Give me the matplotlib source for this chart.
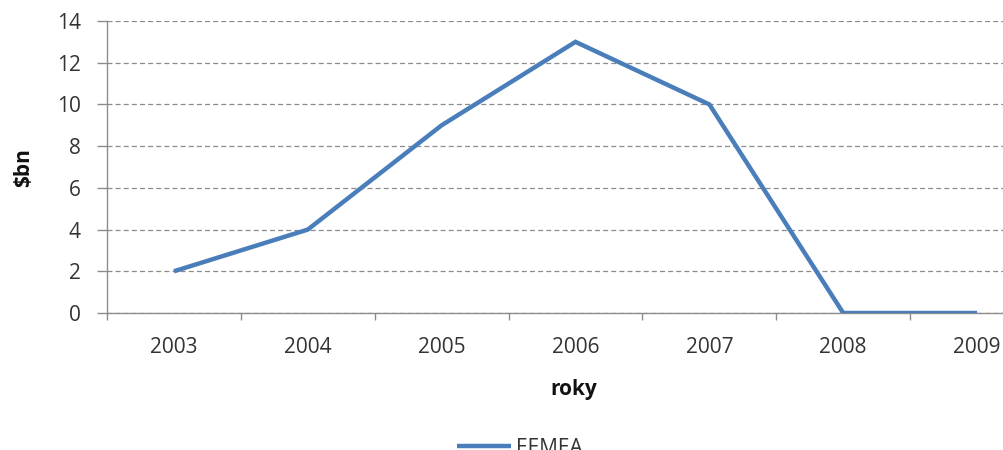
import matplotlib
matplotlib.use("Agg")
import matplotlib.pyplot as plt

years = ["2003", "2004", "2005", "2006", "2007", "2008", "2009"]
eemea = [2, 4, 9, 13, 10, 0, 0]
y_ticks = [0, 2, 4, 6, 8, 10, 12, 14]

plt.rcParams["font.family"] = ["Open Sans", "DejaVu Sans"]

W, H = 1004, 450
fig = plt.figure(figsize=(W / 100, H / 100), dpi=100)
fig.patch.set_facecolor("white")

# plot area: left edge at 107px, x axis at 313px, top at 21px; extends past right edge
ax = fig.add_axes([107 / W, (H - 313) / H, 937 / W, 292 / H])

x = list(range(len(years)))
line, = ax.plot(x, eemea, color="#4A7EBB", lw=3.2, solid_joinstyle="miter",
                solid_capstyle="butt", label="EEMEA", zorder=3)

ax.set_xlim(-0.5, len(years) - 0.5)
ax.set_ylim(0, 14)
ax.set_yticks(y_ticks)
ax.set_yticklabels([str(v) for v in y_ticks])
ax.set_xticks(x)
ax.set_xticklabels(years)
ax.set_xticks([i + 0.5 for i in range(-1, len(years))], minor=True)

grid_col = "#8C8C8C"
ax.yaxis.grid(True, linestyle=(0, (4, 2.5)), color=grid_col, lw=0.9)
ax.set_axisbelow(True)
for s in ["top", "right"]:
    ax.spines[s].set_visible(False)
for s in ["left", "bottom"]:
    ax.spines[s].set_color(grid_col)
    ax.spines[s].set_linewidth(1.0)

fs = 15
ax.tick_params(axis="y", which="major", length=7, color=grid_col, width=1.0,
               labelsize=fs, labelcolor="#333333", pad=12)
ax.tick_params(axis="x", which="major", length=0, labelsize=fs,
               labelcolor="#333333", pad=17)
ax.tick_params(axis="x", which="minor", length=5, color=grid_col, width=1.0)

ax.set_ylabel("$bn", fontsize=fs, fontweight="bold", color="#111111")
ax.set_xlabel("roky", fontsize=fs, fontweight="bold", color="#111111")
ax.xaxis.set_label_coords((574 - 107) / 937, -(379 - 313) / 292)
ax.yaxis.set_label_coords(-(107 - 34) / 937, (313 - 168) / 292)

fig.legend(handles=[line], loc="center left", bbox_to_anchor=(457 / W, 2 / H),
           frameon=False, fontsize=fs, handlelength=2.6, handletextpad=0.25,
           borderpad=0, borderaxespad=0, labelcolor="#333333")

fig.savefig("out.png", dpi=100, facecolor="white")
